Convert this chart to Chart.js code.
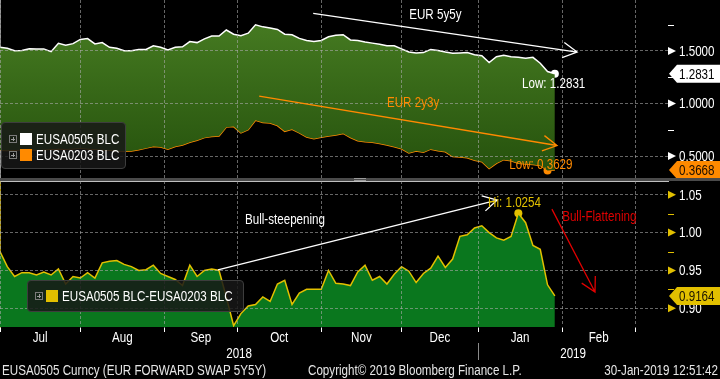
<!DOCTYPE html>
<html lang="en">
<head>
<meta charset="UTF-8">
<title>EUR 5y5y vs 2y3y</title>
<script src="https://cdn.jsdelivr.net/npm/chart.js"></script>
<style>
    body {
        margin: 0;
        width: 720px;
        height: 379px;
        overflow: hidden;
        position: relative;
        background: #000;
        color: #fff;
        font-family: "Liberation Sans", Arial, sans-serif;
    }
    .panel { position: absolute; left: 0; width: 720px; }
    #topPanel { top: 0; height: 178px; }
    #bottomPanel { top: 181px; height: 198px; }
    .divider { position: absolute; left: 0; top: 178px; width: 720px; height: 3px; background: #4a4a4a; }
    .grip { position: absolute; left: 354px; top: 178px; width: 12px; height: 1px; border-top: 1px solid #9a9a9a; border-bottom: 1px solid #9a9a9a; }
    .legend {
        position: absolute;
        background: rgba(24, 24, 24, 0.85);
        border: 1px solid #3d3d3d;
        border-radius: 4px;
        font-size: 14px;
        box-sizing: border-box;
    }
    .legend .row { display: flex; align-items: center; height: 16px; white-space: nowrap; }
    .plus {
        flex-shrink: 0;
        width: 6px; height: 6px; border: 1px solid #7a7a7a;
        margin-left: 7px; margin-right: 3px; position: relative;
    }
    .plus::before { content: ""; position: absolute; left: 1px; top: 2.5px; width: 4px; height: 1px; background: #9a9a9a; }
    .plus::after { content: ""; position: absolute; left: 2.5px; top: 1px; width: 1px; height: 4px; background: #9a9a9a; }
    .swatch { flex-shrink: 0; width: 12px; height: 12px; margin-right: 4px; }
    /* Bloomberg's face is condensed; squeeze the installed sans to match */
    .n { display: inline-block; flex-shrink: 0; white-space: nowrap; transform: scaleX(0.83); transform-origin: 0 50%; }
    .footer { position: absolute; top: 362px; font-size: 14px; line-height: 17px; color: #e6e6e6; white-space: nowrap; }
    .footer.r .n { transform-origin: 100% 50%; }
</style>
</head>
<body>

<div class="panel" id="topPanel"><canvas id="topChart"></canvas></div>
<div class="divider"></div>
<div class="grip"></div>
<div class="panel" id="bottomPanel"><canvas id="bottomChart"></canvas></div>

<div class="legend" style="left:1px; top:122px; width:125px; height:47px; padding-top:8px;">
    <div class="row"><span class="plus"></span><span class="swatch" style="background:#fff"></span><span class="n">EUSA0505 BLC</span></div>
    <div class="row"><span class="plus"></span><span class="swatch" style="background:#ff8a00"></span><span class="n">EUSA0203 BLC</span></div>
</div>
<div class="legend" style="left:27px; top:280px; width:217px; height:32px; padding-top:7px;">
    <div class="row"><span class="plus"></span><span class="swatch" style="background:#e2c000"></span><span class="n">EUSA0505 BLC-EUSA0203 BLC</span></div>
</div>

<div class="footer" style="left:2px;"><span class="n">EUSA0505 Curncy (EUR FORWARD SWAP 5Y5Y)</span></div>
<div class="footer" style="left:308px;"><span class="n">Copyright© 2019 Bloomberg Finance L.P.</span></div>
<div class="footer r" style="right:2px;"><span class="n">30-Jan-2019 12:51:42</span></div>

<script>
    const FONT = '14px "Liberation Sans", Arial, sans-serif';
    const SQUEEZE = 0.83;

    // x = business days since 2-Jul-2018 (every second session)
    const days = [0, 2, 4, 6, 8, 10, 12, 14, 16, 18, 20, 22, 24, 26, 28, 30, 32, 34, 36, 38,
        40, 42, 44, 46, 48, 50, 52, 54, 56, 58, 60, 62, 64, 66, 68, 70, 72, 74, 76, 78,
        80, 82, 84, 86, 88, 90, 92, 94, 96, 98, 100, 102, 104, 106, 108, 110, 112, 114, 116, 118,
        120, 122, 124, 126, 128, 130, 132, 134, 136, 138, 140, 142, 144, 146, 148, 150, 152];

    const eur5y5y = [1.535, 1.526, 1.503, 1.505, 1.522, 1.52, 1.52, 1.494, 1.573, 1.555,
        1.57, 1.61, 1.618, 1.567, 1.58, 1.535, 1.526, 1.503, 1.503, 1.515,
        1.515, 1.55, 1.535, 1.51, 1.535, 1.54, 1.59, 1.58, 1.615, 1.643,
        1.642, 1.70, 1.66, 1.645, 1.67, 1.75, 1.73, 1.72, 1.705, 1.66,
        1.655, 1.62, 1.60, 1.59, 1.60, 1.635, 1.65, 1.655, 1.605, 1.60,
        1.585, 1.575, 1.565, 1.55, 1.55, 1.52, 1.49, 1.48, 1.485, 1.515,
        1.505, 1.49, 1.478, 1.482, 1.485, 1.465, 1.455, 1.39, 1.445, 1.46,
        1.445, 1.44, 1.43, 1.44, 1.383, 1.305, 1.2831];

    const eur2y3y = [0.555, 0.552, 0.556, 0.56, 0.562, 0.558, 0.56, 0.565, 0.57, 0.566,
        0.57, 0.575, 0.57, 0.565, 0.56, 0.555, 0.55, 0.545, 0.548, 0.56,
        0.575, 0.59, 0.585, 0.565, 0.59, 0.605, 0.63, 0.65, 0.675, 0.685,
        0.69, 0.775, 0.78, 0.72, 0.75, 0.84, 0.82, 0.815, 0.79, 0.735,
        0.755, 0.72, 0.68, 0.665, 0.678, 0.69, 0.70, 0.715, 0.676, 0.645,
        0.635, 0.63, 0.62, 0.605, 0.588, 0.568, 0.528, 0.548, 0.535, 0.565,
        0.55, 0.54, 0.495, 0.49, 0.484, 0.46, 0.445, 0.38, 0.43, 0.465,
        0.455, 0.43, 0.425, 0.42, 0.41, 0.3629, 0.3668];

    const spread = [0.975, 0.955, 0.942, 0.947, 0.947, 0.944, 0.948, 0.944, 0.952, 0.932,
        0.942, 0.94, 0.947, 0.94, 0.96, 0.962, 0.963, 0.958, 0.955, 0.95,
        0.951, 0.957, 0.946, 0.942, 0.938, 0.93, 0.957, 0.942, 0.95, 0.952,
        0.95, 0.915, 0.877, 0.893, 0.903, 0.905, 0.915, 0.909, 0.932, 0.937,
        0.905, 0.92, 0.925, 0.925, 0.925, 0.95, 0.933, 0.932, 0.93, 0.948,
        0.957, 0.937, 0.942, 0.932, 0.945, 0.955, 0.949, 0.934, 0.946, 0.953,
        0.969, 0.954, 0.965, 0.995, 0.997, 1.006, 1.009, 1.000, 0.993, 0.990,
        0.995, 1.0254, 1.013, 0.983, 0.978, 0.931, 0.9164];

    const monthNames = ['Jul', 'Aug', 'Sep', 'Oct', 'Nov', 'Dec', 'Jan', 'Feb'];
    const monthStarts = [0, 22, 45, 65, 88, 110, 131, 154, 174];
    const yearNames = ['2018', '2019'];
    const yearStarts = [0, 131];
    const dayMax = 183;

    const topTicks = [0.5, 1.0, 1.5];
    const topMinor = [0.75, 1.25, 1.75];
    const bottomTicks = [0.90, 0.95, 1.00, 1.05];
    const bottomMinor = [0.925, 0.975, 1.025];

    const WHITE = '#ffffff';
    const ORANGE = '#ff8a00';
    const YELLOW = '#e2c000';
    const RED = '#e00000';
    const GRID = 'rgba(170, 170, 170, 0.6)';

    const pts = (vals) => vals.map((v, i) => ({ x: days[i], y: v }));
    const argMin = (a) => a.indexOf(Math.min(...a));
    const argMax = (a) => a.indexOf(Math.max(...a));

    const lowW = argMin(eur5y5y), lowO = argMin(eur2y3y), hiS = argMax(spread);

    function narrow(ctx, text, x, y, align) {
        ctx.save();
        ctx.translate(x, y);
        ctx.scale(SQUEEZE, 1);
        ctx.textAlign = align || 'left';
        ctx.fillText(text, 0, 0);
        ctx.restore();
    }

    // axis labels, markers, arrows, notes and last-value badges
    const decor = {
        id: 'decor',
        afterDraw(chart, args, o) {
            const { ctx, chartArea: a, scales: { x, y } } = chart;
            ctx.save();
            ctx.font = FONT;
            ctx.textBaseline = 'middle';

            ctx.fillStyle = o.axisColor;
            ctx.strokeStyle = o.axisColor;
            ctx.lineWidth = 1;
            o.major.forEach(v => {
                const py = y.getPixelForValue(v);
                ctx.beginPath();
                ctx.moveTo(a.right, py - 4);
                ctx.lineTo(a.right + 8, py);
                ctx.lineTo(a.right, py + 4);
                ctx.closePath();
                ctx.fill();
            });
            o.minor.forEach(v => {
                const py = Math.round(y.getPixelForValue(v)) + 0.5;
                ctx.beginPath();
                ctx.moveTo(a.right, py);
                ctx.lineTo(a.right + 6, py);
                ctx.stroke();
            });
            ctx.fillStyle = WHITE;
            o.major.forEach(v => narrow(ctx, v.toFixed(o.digits), a.right + 11, y.getPixelForValue(v) + 1));

            if (o.months) {
                x.ticks.forEach(t => {
                    if (t.name) narrow(ctx, t.name, x.getPixelForValue(t.value), a.bottom + 11, 'center');
                });
                const ends = yearStarts.slice(1).concat([dayMax]);
                yearNames.forEach((t, i) => {
                    const cx = (x.getPixelForValue(yearStarts[i]) + x.getPixelForValue(ends[i])) / 2;
                    narrow(ctx, t, cx, a.bottom + 27, 'center');
                });
                ctx.strokeStyle = '#8a8a8a';
                yearStarts.slice(1).forEach(d => {
                    const px = Math.round(x.getPixelForValue(d)) + 0.5;
                    ctx.beginPath();
                    ctx.moveTo(px, a.bottom + 16);
                    ctx.lineTo(px, a.bottom + 33);
                    ctx.stroke();
                });
            }

            o.arrows.forEach(ar => {
                const x0 = x.getPixelForValue(ar.from[0]), y0 = y.getPixelForValue(ar.from[1]);
                const x1 = x.getPixelForValue(ar.to[0]), y1 = y.getPixelForValue(ar.to[1]);
                const ang = Math.atan2(y1 - y0, x1 - x0);
                ctx.strokeStyle = ar.color;
                ctx.lineWidth = 1.3;
                ctx.beginPath();
                ctx.moveTo(x0, y0);
                ctx.lineTo(x1, y1);
                ctx.moveTo(x1 - 16 * Math.cos(ang - 0.5), y1 - 16 * Math.sin(ang - 0.5));
                ctx.lineTo(x1, y1);
                ctx.lineTo(x1 - 16 * Math.cos(ang + 0.5), y1 - 16 * Math.sin(ang + 0.5));
                ctx.stroke();
            });

            o.notes.forEach(n => {
                ctx.fillStyle = n.color;
                narrow(ctx, n.text, x.getPixelForValue(n.at[0]), y.getPixelForValue(n.at[1]));
            });

            o.badges.forEach(b => {
                const py = y.getPixelForValue(b.value);
                const l = a.right + 1;
                ctx.fillStyle = b.bg;
                ctx.beginPath();
                ctx.moveTo(l, py);
                ctx.lineTo(l + 8, py - 9);
                ctx.lineTo(chart.width, py - 9);
                ctx.lineTo(chart.width, py + 9);
                ctx.lineTo(l + 8, py + 9);
                ctx.closePath();
                ctx.fill();
                ctx.fillStyle = b.fg;
                narrow(ctx, b.value.toFixed(4), l + 10, py + 1);
            });
            ctx.restore();
        }
    };

    function topFill(c) {
        const area = c.chart.chartArea;
        if (!area) return '#3a6b18';
        const g = c.chart.ctx.createLinearGradient(0, area.top, 0, area.bottom);
        g.addColorStop(0, '#4a8024');
        g.addColorStop(1, '#24500c');
        return g;
    }

    const fixWidth = s => { s.width = 52; s.paddingTop = 0; s.paddingBottom = 0; };

    // ---------- top panel: EUR 5y5y and 2y3y ----------
    new Chart(document.getElementById('topChart'), {
        type: 'line',
        data: {
            datasets: [
                { data: pts(eur5y5y), borderColor: WHITE, borderWidth: 1.5, pointRadius: 0, fill: '+1', backgroundColor: topFill },
                { data: pts(eur2y3y), borderColor: ORANGE, borderWidth: 1.5, pointRadius: 0, fill: false },
                { data: [{ x: days[lowW], y: eur5y5y[lowW] }], showLine: false, pointRadius: 4, pointBackgroundColor: WHITE, pointBorderWidth: 0 },
                { data: [{ x: days[lowO], y: eur2y3y[lowO] }], showLine: false, pointRadius: 4, pointBackgroundColor: ORANGE, pointBorderWidth: 0 }
            ]
        },
        options: {
            animation: false,
            responsive: true,
            maintainAspectRatio: false,
            layout: { padding: 0, autoPadding: false },
            plugins: {
                legend: { display: false },
                tooltip: { enabled: false },
                decor: {
                    axisColor: WHITE,
                    major: topTicks,
                    minor: topMinor,
                    digits: 4,
                    arrows: [
                        { from: [85.8, 1.859], to: [158.1, 1.490], color: WHITE },
                        { from: [71.0, 1.071], to: [152.6, 0.600], color: ORANGE }
                    ],
                    notes: [
                        { text: 'EUR 5y5y', at: [112.1, 1.843], color: WHITE },
                        { text: 'EUR 2y3y', at: [106.0, 1.005], color: ORANGE },
                        { text: 'Low: ' + eur5y5y[lowW].toFixed(4), at: [143.0, 1.186], color: WHITE },
                        { text: 'Low: ' + eur2y3y[lowO].toFixed(4), at: [139.5, 0.414], color: ORANGE }
                    ],
                    badges: [
                        { value: eur5y5y[eur5y5y.length - 1], bg: WHITE, fg: '#000' },
                        { value: eur2y3y[eur2y3y.length - 1], bg: ORANGE, fg: '#1a0d00' }
                    ]
                }
            },
            scales: {
                x: {
                    type: 'linear', min: 0, max: dayMax,
                    afterBuildTicks: s => { s.ticks = monthStarts.map(v => ({ value: v })); },
                    afterFit: s => { s.height = 0; s.paddingLeft = 0; s.paddingRight = 0; },
                    ticks: { display: false },
                    grid: { color: GRID, drawTicks: false, z: 1 },
                    border: { display: false, dash: [3, 2] }
                },
                y: {
                    position: 'right', min: 0.2905, max: 1.9857,
                    afterBuildTicks: s => { s.ticks = topTicks.map(v => ({ value: v })); },
                    afterFit: fixWidth,
                    ticks: { display: false },
                    grid: { color: GRID, drawTicks: false, z: 1 },
                    border: { color: WHITE, width: 1, dash: [3, 2] }
                }
            }
        },
        plugins: [decor]
    });

    // ---------- bottom panel: 5y5y - 2y3y spread ----------
    const monthMids = monthNames.map((m, i) => (monthStarts[i] + monthStarts[i + 1]) / 2);
    const xTicks = monthStarts.map(v => ({ value: v, edge: true }))
        .concat(monthMids.map((v, i) => ({ value: v, name: monthNames[i] })))
        .sort((p, q) => p.value - q.value);

    new Chart(document.getElementById('bottomChart'), {
        type: 'line',
        data: {
            datasets: [
                { data: pts(spread), borderColor: YELLOW, borderWidth: 1.5, pointRadius: 0, fill: 'start', backgroundColor: '#0a771e' },
                { data: [{ x: days[hiS], y: spread[hiS] }], showLine: false, pointRadius: 4, pointBackgroundColor: YELLOW, pointBorderWidth: 0 }
            ]
        },
        options: {
            animation: false,
            responsive: true,
            maintainAspectRatio: false,
            layout: { padding: 0, autoPadding: false },
            plugins: {
                legend: { display: false },
                tooltip: { enabled: false },
                decor: {
                    axisColor: YELLOW,
                    major: bottomTicks,
                    minor: bottomMinor,
                    digits: 2,
                    months: true,
                    arrows: [
                        { from: [59.7, 0.9506], to: [136.2, 1.043], color: WHITE },
                        { from: [151.2, 1.031], to: [163.0, 0.9215], color: RED }
                    ],
                    notes: [
                        { text: 'Bull-steepening', at: [67.1, 1.0166], color: WHITE },
                        { text: 'Hi: ' + spread[hiS].toFixed(4), at: [133.7, 1.039], color: YELLOW },
                        { text: 'Bull-Flattening', at: [154.0, 1.0206], color: RED }
                    ],
                    badges: [
                        { value: spread[spread.length - 1], bg: YELLOW, fg: '#1a1400' }
                    ]
                }
            },
            scales: {
                x: {
                    type: 'linear', min: 0, max: dayMax,
                    afterBuildTicks: s => { s.ticks = xTicks.map(t => Object.assign({}, t)); },
                    afterFit: s => { s.height = 52; s.paddingLeft = 0; s.paddingRight = 0; },
                    ticks: { display: false },
                    grid: {
                        z: 1,
                        color: c => (c.tick && c.tick.edge ? GRID : 'transparent'),
                        tickColor: c => (c.tick && c.tick.edge ? WHITE : 'transparent'),
                        tickLength: 5,
                        tickBorderDash: []
                    },
                    border: { color: WHITE, width: 1.5, dash: [3, 2] }
                },
                y: {
                    position: 'right', min: 0.8753, max: 1.0681,
                    afterBuildTicks: s => { s.ticks = bottomTicks.map(v => ({ value: v })); },
                    afterFit: fixWidth,
                    ticks: { display: false },
                    grid: { color: GRID, drawTicks: false, z: 1 },
                    border: { color: YELLOW, width: 1.5, dash: [3, 2] }
                }
            }
        },
        plugins: [decor]
    });
</script>
</body>
</html>
